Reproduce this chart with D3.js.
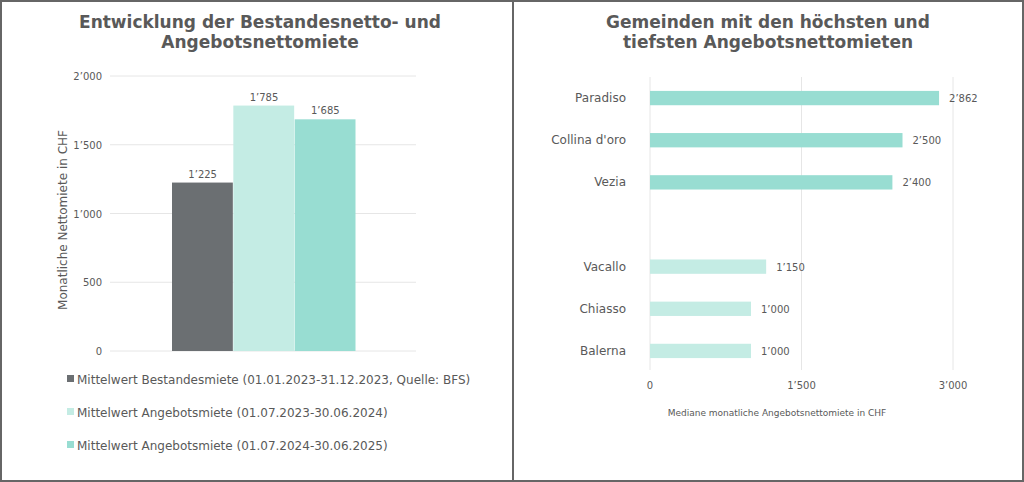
<!DOCTYPE html>
<html><head><meta charset="utf-8">
<script src="https://cdn.jsdelivr.net/npm/d3@7"></script>
<style>body{margin:0;background:#fff}svg{display:block;font-family:'DejaVu Sans',Verdana,sans-serif}</style>
</head><body><svg width="1024" height="482"></svg>
<script>
const seriesNames = ["Mittelwert Bestandesmiete (01.01.2023-31.12.2023, Quelle: BFS)",
  "Mittelwert Angebotsmiete (01.07.2023-30.06.2024)",
  "Mittelwert Angebotsmiete (01.07.2024-30.06.2025)"];
const seriesValues = [1225, 1785, 1685];
const seriesColors = ["#6b6f72", "#c4ece4", "#98ddd2"];
const yTicks = [0, 500, 1000, 1500, 2000];

const communes = ["Paradiso", "Collina d'oro", "Vezia", "", "Vacallo", "Chiasso", "Balerna"];
const communeValues = [2862, 2500, 2400, null, 1150, 1000, 1000];
const communeGroup = [2, 2, 2, null, 1, 1, 1];
const xTicks = [0, 1500, 3000];

const fmt = v => d3.format(",")(v).replace(/,/g, "’");
const txt = "#595959", grid = "#e6e6e6";
const svg = d3.select("svg");

svg.append("rect").attr("x", 1).attr("y", 1).attr("width", 1022).attr("height", 480)
  .attr("fill", "none").attr("stroke", "#666").attr("stroke-width", 2);
svg.append("line").attr("x1", 513).attr("x2", 513).attr("y1", 0).attr("y2", 482)
  .attr("stroke", "#666").attr("stroke-width", 2);

// left chart
const L = svg.append("g");
L.selectAll("text.title").data(["Entwicklung der Bestandesnetto- und", "Angebotsnettomiete"]).join("text")
  .attr("x", 260).attr("y", (d, i) => 28 + i * 20).attr("text-anchor", "middle")
  .attr("font-size", 17).attr("font-weight", "bold").attr("fill", txt).text(d => d);

const y = d3.scaleLinear().domain([0, 2000]).range([351, 76]);
const xb = d3.scaleBand().domain(d3.range(3)).range([172, 356]).padding(0);
L.selectAll("line.g").data(yTicks).join("line")
  .attr("x1", 110).attr("x2", 416).attr("y1", d => y(d)).attr("y2", d => y(d))
  .attr("stroke", grid);
L.selectAll("text.yt").data(yTicks).join("text")
  .attr("x", 102).attr("y", d => y(d) + 4).attr("text-anchor", "end")
  .attr("font-size", 10).attr("fill", txt).text(fmt);
L.selectAll("rect.bar").data(seriesValues).join("rect")
  .attr("x", (d, i) => xb(i)).attr("width", xb.bandwidth() - 0.5)
  .attr("y", d => y(d)).attr("height", d => y(0) - y(d))
  .attr("fill", (d, i) => seriesColors[i]);
L.selectAll("text.lab").data(seriesValues).join("text")
  .attr("x", (d, i) => xb(i) + xb.bandwidth() / 2).attr("y", d => y(d) - 5)
  .attr("text-anchor", "middle").attr("font-size", 10).attr("fill", txt).text(fmt);
L.append("text").attr("transform", "translate(67,220) rotate(-90)").attr("text-anchor", "middle")
  .attr("font-size", 12).attr("fill", txt).text("Monatliche Nettomiete in CHF");
const lg = L.selectAll("g.lg").data(seriesNames).join("g")
  .attr("transform", (d, i) => `translate(67,${380 + i * 33})`);
lg.append("rect").attr("y", -5).attr("width", 7).attr("height", 7).attr("fill", (d, i) => seriesColors[i]);
lg.append("text").attr("x", 10).attr("y", 4).attr("font-size", 12).attr("fill", txt).text(d => d);

// right chart
const R = svg.append("g");
R.selectAll("text.title").data(["Gemeinden mit den höchsten und", "tiefsten Angebotsnettomieten"]).join("text")
  .attr("x", 768).attr("y", 28).attr("y", (d, i) => 28 + i * 20).attr("text-anchor", "middle")
  .attr("font-size", 17).attr("font-weight", "bold").attr("fill", txt).text(d => d);
const x = d3.scaleLinear().domain([0, 3000]).range([650, 953]);
const yb = d3.scaleBand().domain(d3.range(communes.length)).range([77, 372]).paddingInner(0.66).paddingOuter(0.33);
R.selectAll("line.g").data(xTicks).join("line")
  .attr("x1", d => x(d)).attr("x2", d => x(d)).attr("y1", 77).attr("y2", 370).attr("stroke", grid);
R.selectAll("text.xt").data(xTicks).join("text")
  .attr("x", d => x(d)).attr("y", 389).attr("text-anchor", "middle")
  .attr("font-size", 10).attr("fill", txt).text(fmt);
const rows = communes.map((c, i) => ({c, v: communeValues[i], g: communeGroup[i], i})).filter(d => d.v != null);
R.selectAll("rect.bar").data(rows).join("rect")
  .attr("x", x(0)).attr("y", d => yb(d.i)).attr("height", yb.bandwidth())
  .attr("width", d => x(d.v) - x(0)).attr("fill", d => d.g === 2 ? seriesColors[2] : seriesColors[1]);
R.selectAll("text.cat").data(rows).join("text")
  .attr("x", 626).attr("y", d => yb(d.i) + yb.bandwidth() / 2 + 4).attr("text-anchor", "end")
  .attr("font-size", 12).attr("fill", txt).text(d => d.c);
R.selectAll("text.val").data(rows).join("text")
  .attr("x", d => x(d.v) + 10).attr("y", d => yb(d.i) + yb.bandwidth() / 2 + 4)
  .attr("font-size", 10).attr("fill", txt).text(d => fmt(d.v));
R.append("text").attr("x", 777).attr("y", 416).attr("text-anchor", "middle")
  .attr("font-size", 9).attr("fill", txt).text("Mediane monatliche Angebotsnettomiete in CHF");
</script></body></html>
